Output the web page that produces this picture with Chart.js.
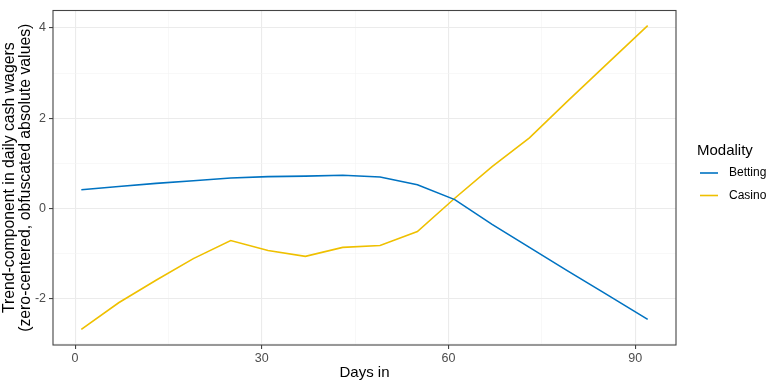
<!DOCTYPE html>
<html><head><meta charset="utf-8">
<script src="https://cdn.jsdelivr.net/npm/chart.js@4/dist/chart.umd.min.js"></script>
<style>html,body{margin:0;padding:0;background:#fff}#wrap{width:768px;height:384px}</style>
</head><body><div id="wrap"><canvas id="c" width="768" height="384"></canvas></div>
<script>
const days = [1,7,13,19,25,31,37,43,49,55,61,67,73,79,85,92];
const betting = [0.41,0.48,0.55,0.61,0.67,0.70,0.71,0.73,0.69,0.52,0.19,-0.36,-0.87,-1.38,-1.88,-2.47];
const casino = [-2.69,-2.10,-1.60,-1.12,-0.72,-0.94,-1.07,-0.87,-0.83,-0.52,0.22,0.92,1.56,2.36,3.14,4.05];
const seriesNames = ['Betting','Casino'];
const seriesColors = ['#0073C2','#EFC000'];
const xTicks = [0,15,30,45,60,75,90];
const yTicks = [-3,-2,-1,0,1,2,3,4];
const legendTitle = 'Modality';
const xTitle = 'Days in';
const yTitle = ['Trend-component in daily cash wagers','(zero-centered, obfuscated absolute values)'];

const FONT = "'Liberation Sans', Arial, sans-serif";
const borderPlugin = {
  id:'panelBorder',
  afterDraw(chart){
    const {ctx, chartArea:a} = chart;
    ctx.save(); ctx.strokeStyle='#444'; ctx.lineWidth=1.1;
    ctx.strokeRect(a.left, a.top, a.right-a.left, a.bottom-a.top);
    // legend
    ctx.fillStyle='#000'; ctx.font="15px "+FONT; ctx.textBaseline='middle'; ctx.textAlign='left';
    ctx.fillText(legendTitle, 697, 151);
    chart.data.datasets.forEach((ds,i)=>{
      const y = 173 + i*22.5;
      ctx.strokeStyle=ds.borderColor; ctx.lineWidth=1.6;
      ctx.beginPath(); ctx.moveTo(700,y); ctx.lineTo(718,y); ctx.stroke();
      ctx.fillStyle='#000'; ctx.font="12px "+FONT;
      ctx.fillText(ds.label, 729, y);
    });
    ctx.restore();
  }
};
const isMajorX = v => v % 30 === 0;
const isMajorY = v => v % 2 === 0;
new Chart(document.getElementById('c'), {
  type:'line',
  data:{datasets:[
    {label:seriesNames[0], data:days.map((d,i)=>({x:d,y:betting[i]})), borderColor:seriesColors[0], borderWidth:1.6, pointRadius:0, fill:false, tension:0},
    {label:seriesNames[1], data:days.map((d,i)=>({x:d,y:casino[i]})), borderColor:seriesColors[1], borderWidth:1.6, pointRadius:0, fill:false, tension:0}
  ]},
  options:{
    responsive:false, animation:false, devicePixelRatio:1,
    layout:{padding:{top:3,right:92,left:0,bottom:0}},
    plugins:{legend:{display:false}, tooltip:{enabled:false}},
    scales:{
      x:{type:'linear', min:-3.55, max:96.55,
        afterBuildTicks:s=>{s.ticks = xTicks.map(v=>({value:v}));},
        afterFit:s=>{s.height=39;},
        border:{display:false},
        grid:{color:c=>isMajorX(c.tick.value)?'#EBEBEB':'#F3F3F3', lineWidth:c=>isMajorX(c.tick.value)?1.1:0.6,
              tickColor:c=>isMajorX(c.tick.value)?'#444':'rgba(0,0,0,0)', tickLength:4, tickWidth:1.1},
        ticks:{color:'#4D4D4D', font:{family:FONT,size:12.5}, padding:2, maxRotation:0, autoSkip:false,
               callback:v=>isMajorX(v)?String(v):''},
        title:{display:true, text:xTitle, color:'#000', font:{family:FONT,size:15}, padding:{top:0,bottom:2}}
      },
      y:{type:'linear', min:-3.0375, max:4.3875,
        afterBuildTicks:s=>{s.ticks = yTicks.map(v=>({value:v}));},
        afterFit:s=>{s.width=53;},
        border:{display:false},
        grid:{color:c=>isMajorY(c.tick.value)?'#EBEBEB':'#F3F3F3', lineWidth:c=>isMajorY(c.tick.value)?1.1:0.6,
              tickColor:c=>isMajorY(c.tick.value)?'#444':'rgba(0,0,0,0)', tickLength:4, tickWidth:1.1},
        ticks:{color:'#4D4D4D', font:{family:FONT,size:12.5}, padding:3, autoSkip:false,
               callback:v=>isMajorY(v)?String(v):''},
        title:{display:true, text:yTitle, color:'#000', font:{family:FONT,size:15.8,lineHeight:1.05}, padding:{top:1,bottom:0}}
      }
    }
  },
  plugins:[borderPlugin]
});
</script></body></html>
